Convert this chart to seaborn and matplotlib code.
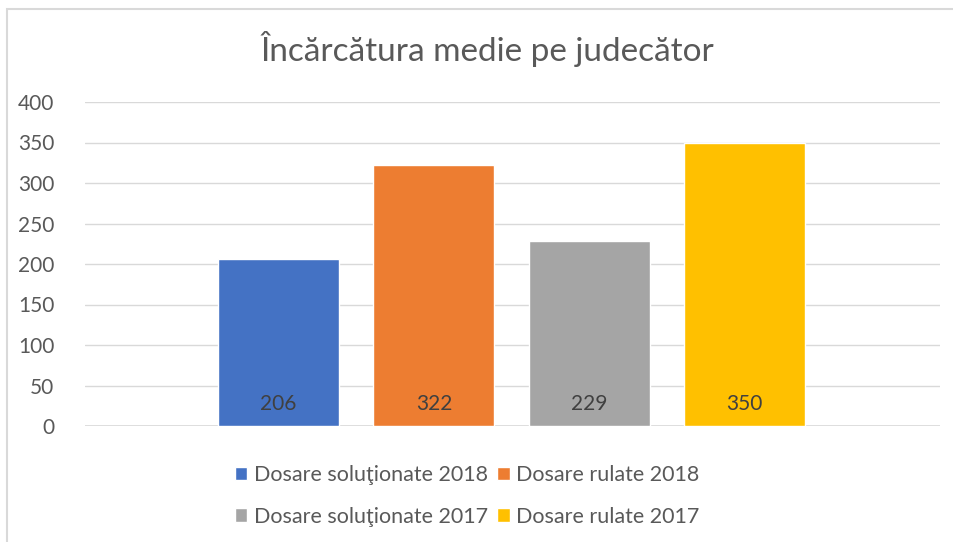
import pandas as pd
import numpy as np
import seaborn as sns
import matplotlib.pyplot as plt
from matplotlib.patches import Rectangle, Patch

series = ['Dosare soluţionate 2018', 'Dosare rulate 2018',
          'Dosare soluţionate 2017', 'Dosare rulate 2017']
values = [206, 322, 229, 350]
colors = ['#4472C4', '#ED7D31', '#A5A5A5', '#FFC000']
yticks = [0, 50, 100, 150, 200, 250, 300, 350, 400]

df = pd.DataFrame({'serie': series, 'valoare': values})

sns.set_style('white')
plt.rcParams['font.family'] = ['Lato', 'DejaVu Sans']
txt = '#595959'

fig = plt.figure(figsize=(9.54, 5.42), dpi=100)
ax = fig.add_axes([85/954, 1-426/542, 855/954, 324/542])

sns.barplot(data=df, x='serie', y='valoare', hue='serie', palette=colors,
            width=0.78, saturation=1, legend=False, ax=ax, zorder=2)

ax.set_xlim(-1.247, 4.26)
ax.set_ylim(0, 400)
ax.set_yticks(yticks)
ax.set_yticklabels([str(t) for t in yticks], fontsize=15, color=txt)
ax.set_xticks([])
ax.set_xlabel('')
ax.set_ylabel('')
ax.yaxis.grid(True, color='#D9D9D9', lw=1, zorder=0)
ax.tick_params(axis='y', length=0, pad=22)
for s in ax.spines.values():
    s.set_visible(False)
ax.axhline(0, color='#D9D9D9', lw=1.2, zorder=1)

# etichete de date la baza barelor
for i, v in enumerate(values):
    ax.annotate(str(v), (i, 0), xytext=(0, 16), textcoords='offset points',
                ha='center', va='center', fontsize=15, color='#404040')

fig.text(487/954, 1-49/542, 'Încărcătura medie pe judecător',
         ha='center', va='center', fontsize=24, color=txt)

order = [0, 2, 1, 3]
handles = [Patch(facecolor=colors[i], label=series[i]) for i in order]
fig.legend(handles=handles, ncol=2, loc='center', bbox_to_anchor=(467/954, 1-496/542),
           frameon=False, fontsize=15.5, labelcolor=txt, handlelength=0.6,
           handleheight=0.6, handletextpad=0.3, columnspacing=0.4, labelspacing=1.0)

fig.add_artist(Rectangle((7/954, -0.1), 1.2, 1.1 - 9/542, transform=fig.transFigure,
                         fill=False, edgecolor='#D9D9D9', lw=1.5))

fig.savefig('out.png', dpi=100)
